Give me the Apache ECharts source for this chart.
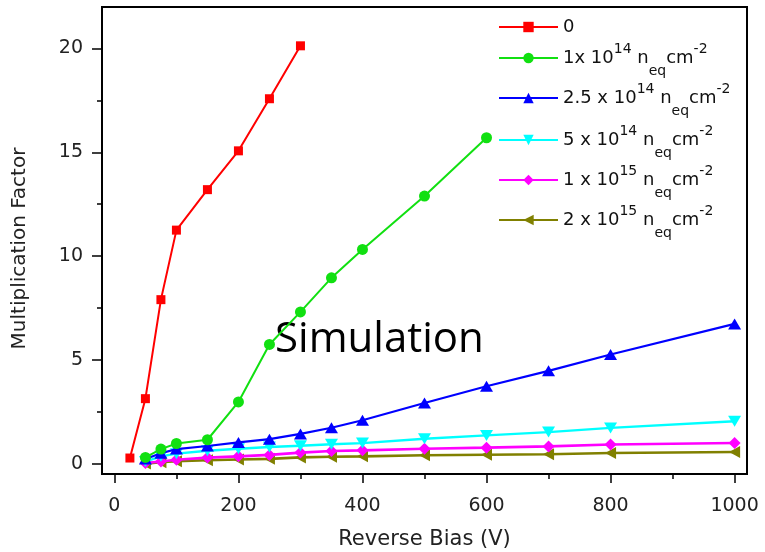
<!DOCTYPE html>
<html>
<head>
<meta charset="utf-8">
<script src="https://cdn.jsdelivr.net/npm/echarts@6/dist/echarts.min.js"></script>
<style>
  html, body { margin: 0; padding: 0; background: #fff; }
  #chart { width: 765px; height: 552px; }
</style>
</head>
<body>
<div id="chart"></div>
<script>
// Reverse bias (V) for the unirradiated device and for the irradiated devices
const biasUnirradiated = [25, 50, 75, 100, 150, 200, 250, 300];
const biasIrradiated = [50, 75, 100, 150, 200, 250, 300, 350, 400, 500, 600, 700, 800, 1000];

// Multiplication factor per fluence
const gain0 = [0.27, 3.13, 7.9, 11.25, 13.2, 15.07, 17.58, 20.13];
const gain1e14 = [0.3, 0.7, 0.97, 1.15, 2.97, 5.74, 7.31, 8.95, 10.32, 12.89, 15.7];
const gain25e14 = [0.22, 0.5, 0.7, 0.85, 1.02, 1.18, 1.43, 1.73, 2.09, 2.92, 3.73, 4.47, 5.26, 6.73];
const gain5e14 = [0.1, 0.35, 0.48, 0.62, 0.72, 0.8, 0.86, 0.93, 0.99, 1.2, 1.36, 1.52, 1.72, 2.04];
const gain1e15 = [0.03, 0.1, 0.19, 0.29, 0.35, 0.42, 0.53, 0.61, 0.64, 0.72, 0.77, 0.83, 0.92, 0.99];
const gain2e15 = [0.0, 0.07, 0.12, 0.16, 0.2, 0.23, 0.3, 0.33, 0.35, 0.4, 0.43, 0.45, 0.51, 0.56];

// Axis ticks
const xMajorTicks = [0, 200, 400, 600, 800, 1000];
const xMinorTicks = [100, 300, 500, 700, 900];
const yMajorTicks = [0, 5, 10, 15, 20];
const yMinorTicks = [2.5, 7.5, 12.5, 17.5];

// Legend entries (rich text: sup = superscript, sub = subscript)
const seriesNames = ['0', '1e14', '2.5e14', '5e14', '1e15', '2e15'];
const legendLabels = [
  '0',
  '1x 10{sup|14} n{sub|eq}cm{sup|-2}',
  '2.5 x 10{sup|14} n{sub|eq}cm{sup|-2}',
  '5 x 10{sup|14} n{sub|eq}cm{sup|-2}',
  '1 x 10{sup|15} n{sub|eq}cm{sup|-2}',
  '2 x 10{sup|15} n{sub|eq}cm{sup|-2}'
];

const FONT = '"DejaVu Sans", Verdana, sans-serif';

function pairs(xs, ys) { return ys.map((y, i) => [xs[i], y]); }
function plainNumber(v) { return String(v); }

const styles = [
  { color: '#ff0000', symbol: 'rect', size: 9, rotate: 0, width: 2 },
  { color: '#11e011', symbol: 'circle', size: 11, rotate: 0, width: 2 },
  { color: '#0000ff', symbol: 'triangle', size: [13, 11], rotate: 0, width: 2.2 },
  { color: '#00ffff', symbol: 'triangle', size: [13, 11], rotate: 180, width: 2.4 },
  { color: '#ff00ff', symbol: 'diamond', size: [12, 12], rotate: 0, width: 2.6 },
  { color: '#808000', symbol: 'triangle', size: [12, 11], rotate: 90, width: 2.6 }
];

const seriesData = [
  pairs(biasUnirradiated, gain0),
  pairs(biasIrradiated, gain1e14),
  pairs(biasIrradiated, gain25e14),
  pairs(biasIrradiated, gain5e14),
  pairs(biasIrradiated, gain1e15),
  pairs(biasIrradiated, gain2e15)
];

const legendTops = [18, 42, 82, 124, 164, 204];

const richText = {
  sup: { fontSize: 14, fontFamily: FONT, color: '#111', padding: [0, 0, 18, 0] },
  sub: { fontSize: 14, fontFamily: FONT, color: '#111', padding: [26, 0, 0, 0] }
};

const chart = echarts.init(document.getElementById('chart'));

const option = {
  animation: false,
  backgroundColor: '#fff',
  grid: {
    left: 102, top: 7, right: 18, bottom: 78,
    outerBoundsMode: 'none',
    show: true, borderColor: '#000', borderWidth: 2, backgroundColor: 'transparent'
  },
  xAxis: [
    {
      type: 'value', min: -20, max: 1020, position: 'bottom',
      name: 'Reverse Bias (V)', nameLocation: 'middle', nameGap: 55,
      nameTextStyle: { fontFamily: FONT, fontSize: 21, color: '#222' },
      axisLine: { show: true, onZero: false, lineStyle: { color: '#000', width: 2 } },
      axisTick: { show: true, inside: false, length: 9, customValues: xMajorTicks, lineStyle: { color: '#000', width: 1.5 } },
      axisLabel: { customValues: xMajorTicks, formatter: plainNumber, margin: 23, fontFamily: FONT, fontSize: 19, color: '#222' },
      splitLine: { show: false }
    },
    {
      type: 'value', min: -20, max: 1020, position: 'bottom',
      axisLine: { show: false, onZero: false },
      axisTick: { show: true, inside: false, length: 5, customValues: xMinorTicks, lineStyle: { color: '#000', width: 1.5 } },
      axisLabel: { show: false },
      splitLine: { show: false }
    }
  ],
  yAxis: [
    {
      type: 'value', min: -0.5, max: 22, position: 'left',
      name: 'Multiplication Factor', nameLocation: 'middle', nameGap: 72,
      nameTextStyle: { fontFamily: FONT, fontSize: 20, color: '#222', padding: [0, 16, 0, 0] },
      axisLine: { show: true, onZero: false, lineStyle: { color: '#000', width: 2 } },
      axisTick: { show: true, inside: false, length: 10, customValues: yMajorTicks, lineStyle: { color: '#000', width: 1.5 } },
      axisLabel: { customValues: yMajorTicks, formatter: plainNumber, margin: 19, fontFamily: FONT, fontSize: 19, color: '#222' },
      splitLine: { show: false }
    },
    {
      type: 'value', min: -0.5, max: 22, position: 'left',
      axisLine: { show: false, onZero: false },
      axisTick: { show: true, inside: false, length: 5, customValues: yMinorTicks, lineStyle: { color: '#000', width: 1.5 } },
      axisLabel: { show: false },
      splitLine: { show: false }
    }
  ],
  legend: seriesNames.map((name, i) => ({
    data: [name],
    orient: 'vertical',
    left: 498,
    top: legendTops[i],
    padding: 0,
    itemWidth: 59,
    itemHeight: 13,
    selectedMode: false,
    formatter: () => legendLabels[i],
    textStyle: { fontFamily: FONT, fontSize: 18, color: '#111', rich: richText }
  })),
  graphic: [
    {
      type: 'text', left: 275, top: 319, silent: true,
      style: { text: 'Simulation', fontFamily: '"Open Sans", sans-serif', fontSize: 42, fill: '#000' }
    }
  ],
  series: seriesNames.map((name, i) => ({
    name: name,
    type: 'line',
    xAxisIndex: 0,
    yAxisIndex: 0,
    data: seriesData[i],
    symbol: styles[i].symbol,
    symbolSize: styles[i].size,
    symbolRotate: styles[i].rotate,
    showAllSymbol: true,
    clip: false,
    lineStyle: { color: styles[i].color, width: styles[i].width },
    itemStyle: { color: styles[i].color },
    z: 10 - i
  }))
};

chart.setOption(option);
</script>
</body>
</html>
